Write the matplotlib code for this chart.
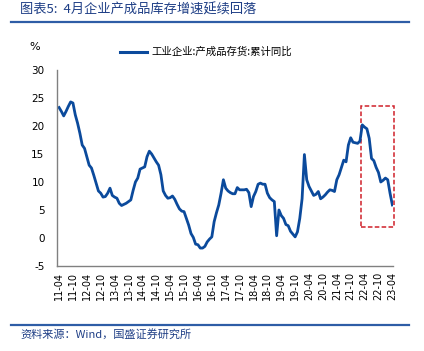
import matplotlib
matplotlib.use("Agg")
import matplotlib.pyplot as plt
from matplotlib.patches import Rectangle
from matplotlib.lines import Line2D
import numpy as np

plt.rcParams['font.family'] = ['Noto Sans CJK SC', 'DejaVu Sans']

# monthly, 2011-04 .. 2023-04
values = [23.3, 22.6, 21.8, 22.6, 23.5, 24.3, 24.1, 22.0, 20.5, 18.7,
          16.6, 16.0, 14.5, 13.0, 12.5, 11.2, 9.8, 8.4, 8.0, 7.3,
          7.4, 8.0, 8.9, 7.6, 7.3, 7.1, 6.2, 5.8, 6.0, 6.2,
          6.5, 6.8, 8.5, 10.0, 10.7, 12.3, 12.5, 12.7, 14.5, 15.5,
          15.0, 14.3, 13.6, 13.0, 11.3, 8.4, 7.6, 7.1, 7.2, 7.5,
          6.9, 6.0, 5.2, 4.8, 4.7, 3.5, 2.3, 0.8, 0.1, -1.1,
          -1.2, -1.8, -1.8, -1.5, -0.7, -0.2, 0.2, 2.9, 4.5, 5.9,
          8.0, 10.4, 8.9, 8.4, 8.1, 7.9, 7.9, 9.0, 8.6, 8.6,
          8.6, 8.7, 8.1, 5.6, 7.4, 8.3, 9.6, 9.8, 9.6, 9.6,
          8.0, 7.2, 6.8, 6.5, 0.4, 5.0, 4.0, 3.5, 2.4, 2.2,
          1.2, 0.7, 0.2, 1.1, 3.5, 7.0, 14.9, 10.4, 9.2, 8.4,
          7.6, 7.8, 8.3, 7.0, 7.3, 7.7, 8.2, 8.6, 8.5, 8.3,
          10.4, 11.3, 12.6, 13.9, 13.6, 16.6, 17.9, 17.1, 17.0, 16.9,
          17.3, 20.2, 19.8, 19.5, 17.8, 14.2, 13.8, 12.6, 11.7, 10.0,
          10.3, 10.7, 10.4, 8.0, 5.9]

months = []
y, m = 2011, 4
for _ in values:
    months.append(f"{y % 100:02d}-{m:02d}")
    m += 1
    if m > 12:
        m = 1
        y += 1

tick_labels = months[::6]
yticks = [-5, 0, 5, 10, 15, 20, 25, 30]
series_name = '工业企业:产成品存货:累计同比'

# highlighted recent period
box_x = (130.4, 144.6)
box_y = (1.9, 23.6)

blue = '#0B4A9C'
frame_blue = '#2E5DA6'
text_blue = '#1F3F86'

fig = plt.figure(figsize=(4.24, 3.51), dpi=100)
ax = fig.add_axes([0.1344, 0.2422, 0.7926, 0.5584])

x = np.arange(len(values))
ax.plot(x, values, color=blue, linewidth=2.0, solid_joinstyle='round')

ax.add_patch(Rectangle((box_x[0], box_y[0]), box_x[1] - box_x[0], box_y[1] - box_y[0],
                       fill=False, edgecolor='#D0202A', linestyle=(0, (3, 1.5)),
                       linewidth=1.1, clip_on=False))

ax.set_xlim(-0.9, 144.3)
ax.set_ylim(-5, 30)
ax.set_yticks(yticks)
ax.set_yticklabels([str(v) for v in yticks], fontsize=7.5, family='DejaVu Sans')
ax.set_xticks(x[::6])
ax.set_xticklabels(tick_labels, rotation=90, fontsize=7, family='DejaVu Sans')
ax.tick_params(axis='both', length=0)
ax.tick_params(axis='y', pad=9)
ax.tick_params(axis='x', pad=4)
for s in ['top', 'right']:
    ax.spines[s].set_visible(False)
for s in ['left', 'bottom']:
    ax.spines[s].set_color('#808080')
    ax.spines[s].set_linewidth(1.0)

# legend
fig.add_artist(Line2D([120 / 424, 147 / 424], [1 - 52 / 351, 1 - 52 / 351],
                      color=blue, linewidth=2.2))
fig.text(151 / 424, 1 - 52 / 351, series_name, fontsize=7.5, va='center', ha='left')
fig.text(35 / 424, 1 - 47 / 351, '%', fontsize=8, va='center', ha='center', family='DejaVu Sans')

# header / footer
fig.text(20 / 424, 1 - 10 / 351, '图表5:  4月企业产成品库存增速延续回落', fontsize=9.5,
         color=text_blue, style='italic', va='center', ha='left')
fig.add_artist(Line2D([11 / 424, 409 / 424], [1 - 22 / 351, 1 - 22 / 351],
                      color=frame_blue, linewidth=1.6))
fig.add_artist(Line2D([11 / 424, 409 / 424], [1 - 325 / 351, 1 - 325 / 351],
                      color=frame_blue, linewidth=1.6))
fig.text(20 / 424, 1 - 334 / 351, '资料来源：Wind，国盛证券研究所', fontsize=8,
         color=text_blue, style='italic', va='center', ha='left')

fig.savefig('out.png', dpi=100)
